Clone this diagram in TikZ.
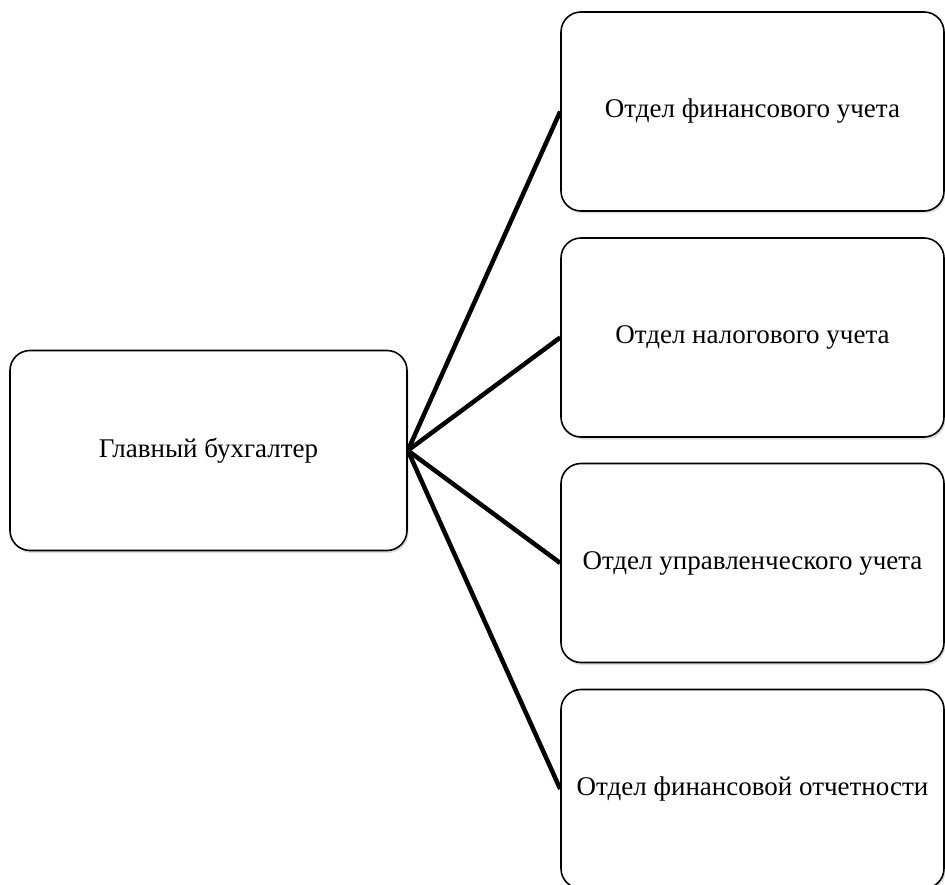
\documentclass[tikz,border=0pt]{standalone}
\usepackage{fontspec}
\setmainfont{Liberation Serif}
\usetikzlibrary{shadows}
\begin{document}
\begin{tikzpicture}[x=1pt,y=-1pt,
  box/.style={draw=black,line width=1.6pt,rounded corners=20pt,fill=white,
    drop shadow={shadow xshift=1.5pt,shadow yshift=-2.5pt,opacity=0.25,fill=gray},
    inner sep=0pt,font=\fontsize{27}{32}\selectfont},
  mainbox/.style={box,minimum width=397pt,minimum height=200pt},
  dept/.style={box,minimum width=383pt,minimum height=199pt},
  conn/.style={line width=4.5pt,black}]
\useasboundingbox (0,0) rectangle (945,885);
\node[mainbox] (main) at (208.5,450.5) {Главный бухгалтер};
\node[dept] (d1) at (752.5,111.5) {Отдел финансового учета};
\node[dept] (d2) at (752.5,337.5) {Отдел налогового учета};
\node[dept] (d3) at (752.5,563) {Отдел управленческого учета};
\node[dept] (d4) at (752.5,789) {Отдел финансовой отчетности};
\foreach \d in {d1,d2,d3,d4}{\draw[conn] (main.east) -- (\d.west);}
\end{tikzpicture}
\end{document}
